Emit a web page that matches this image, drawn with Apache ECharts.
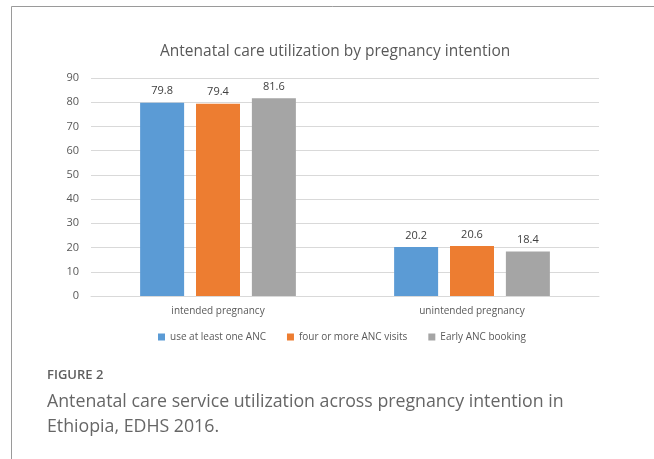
<!DOCTYPE html>
<html><head><meta charset="utf-8">
<script src="https://cdn.jsdelivr.net/npm/echarts@6/dist/echarts.min.js"></script>
<style>html,body{margin:0;padding:0;background:#fff}#c{width:654px;height:459px}</style>
</head><body><div id="c"></div>
<script>
const categories = ['intended pregnancy', 'unintended pregnancy'];
const seriesNames = ['use at least one ANC', 'four or more ANC visits', 'Early ANC booking'];
const useAtLeastOne = [79.8, 20.2];
const fourOrMore = [79.4, 20.6];
const earlyBooking = [81.6, 18.4];
const colors = ['#5b9bd5', '#ed7d31', '#a5a5a5'];
const font = '"Open Sans", "Noto Sans", sans-serif';

const chart = echarts.init(document.getElementById('c'), null, {renderer: 'canvas'});
const mk = (name, data, color) => ({
  name, type: 'bar', data, barWidth: 44, barGap: '27%',
  itemStyle: {color},
  label: {show: true, position: 'top', distance: 6, color: '#404040', fontSize: 11, fontFamily: font, formatter: p => p.value.toFixed(1)}
});
chart.setOption({
  animation: false,
  title: {text: 'Antenatal care utilization by pregnancy intention', left: 155, top: 39,
    textStyle: {fontSize: 15.5, fontWeight: 'normal', color: '#595959', fontFamily: font}},
  grid: {left: 91, right: 55, top: 78, bottom: 163},
  legend: {top: 327, left: 153, itemWidth: 7, itemHeight: 7, itemGap: 21, icon: 'rect',
    textStyle: {fontSize: 10, color: '#595959', fontFamily: font}, data: seriesNames},
  xAxis: {type: 'category', data: categories,
    axisLine: {lineStyle: {color: '#d9d9d9'}}, axisTick: {show: false},
    axisLabel: {color: '#595959', fontSize: 10, fontFamily: font, margin: 10}},
  yAxis: {type: 'value', min: 0, max: 90, interval: 10,
    axisLine: {show: false}, axisTick: {show: false},
    splitLine: {lineStyle: {color: '#d9d9d9'}},
    axisLabel: {color: '#595959', fontSize: 11, fontFamily: font, margin: 12}},
  series: [mk(seriesNames[0], useAtLeastOne, colors[0]), mk(seriesNames[1], fourOrMore, colors[1]), mk(seriesNames[2], earlyBooking, colors[2])],
  graphic: [
    {type: 'line', shape: {x1: 11.5, y1: 6.5, x2: 654, y2: 6.5}, style: {stroke: '#9a9a9a', lineWidth: 1}},
    {type: 'line', shape: {x1: 11.5, y1: 6.5, x2: 11.5, y2: 459}, style: {stroke: '#9a9a9a', lineWidth: 1}},
    {type: 'text', left: 47, top: 369, style: {text: 'FIGURE 2', fontSize: 13, fontWeight: 600, fontFamily: font, fill: '#5f5f5f'}},
    {type: 'text', left: 47, top: 389, style: {text: 'Antenatal care service utilization across pregnancy intention in\nEthiopia, EDHS 2016.', fontSize: 17.75, lineHeight: 25, fontFamily: font, fill: '#666666'}}
  ]
});
</script></body></html>
